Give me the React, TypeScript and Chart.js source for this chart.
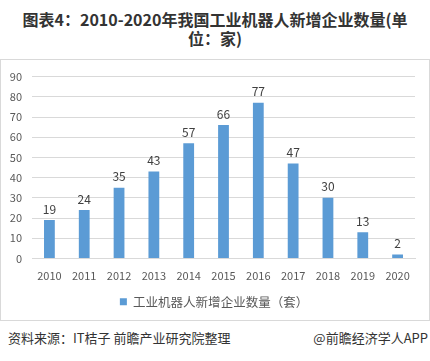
import React, { useEffect, useRef } from "react";
import { Chart, registerables } from "chart.js";

Chart.register(...registerables);

const categories = ["2010", "2011", "2012", "2013", "2014", "2015", "2016", "2017", "2018", "2019", "2020"];
const values = [19, 24, 35, 43, 57, 66, 77, 47, 30, 13, 2];
const seriesName = "工业机器人新增企业数量（套）";
const yMax = 90;
const yStep = 10;

const FONT = "'Noto Sans CJK SC', 'Noto Sans', sans-serif";

const valueLabels = {
  id: "valueLabels",
  afterDatasetsDraw(chart: any) {
    const ctx = chart.ctx;
    const meta = chart.getDatasetMeta(0);
    ctx.save();
    ctx.font = `12px ${FONT}`;
    ctx.fillStyle = "#404040";
    ctx.textAlign = "center";
    ctx.textBaseline = "bottom";
    meta.data.forEach((bar: any, i: number) => {
      ctx.fillText(String(values[i]), bar.x, bar.y - 5);
    });
    ctx.restore();
  },
};

// centre the legend under the whole box rather than under the padded area
const legendShift = {
  id: "legendShift",
  afterLayout(chart: any) {
    if (chart.legend) {
      chart.legend.left += 6;
      chart.legend.right += 6;
    }
  },
};

export default function App() {
  const ref = useRef<HTMLCanvasElement>(null);
  useEffect(() => {
    if (!ref.current) return;
    const chart = new Chart(ref.current, {
      type: "bar",
      data: {
        labels: categories,
        datasets: [
          {
            label: seriesName,
            data: values,
            backgroundColor: "#5B9BD5",
            barPercentage: 0.31,
            categoryPercentage: 1,
          },
        ],
      },
      options: {
        animation: false,
        responsive: false,
        maintainAspectRatio: false,
        layout: { padding: { top: 13, right: 14, bottom: 2, left: 0 } },
        plugins: {
          legend: {
            position: "bottom",
            labels: {
              boxWidth: 7,
              boxHeight: 7,
              padding: 10,
              color: "#595959",
              font: { family: FONT, size: 12.5 },
            },
          },
          tooltip: { enabled: false },
        },
        scales: {
          x: {
            grid: { display: false },
            border: { display: true, color: "#d9d9d9" },
            ticks: { color: "#595959", font: { family: FONT, size: 11 }, padding: 3 },
            afterFit(scale: any) {
              scale.height = 27;
            },
          },
          y: {
            min: 0,
            max: yMax,
            grid: { color: "#d9d9d9", drawTicks: false },
            border: { display: false },
            ticks: {
              stepSize: yStep,
              color: "#595959",
              font: { family: FONT, size: 11 },
              padding: 10,
            },
            afterFit(scale: any) {
              scale.width = 31;
            },
          },
        },
      },
      plugins: [valueLabels, legendShift],
    });
    return () => chart.destroy();
  }, []);

  return (
    <div style={{ position: "absolute", left: 0, top: 0, width: 430, height: 361, background: "#fff", fontFamily: FONT }}>
      <div
        style={{
          position: "absolute",
          top: 10,
          left: 0,
          width: 430,
          textAlign: "center",
          fontSize: 16,
          fontWeight: "bold",
          lineHeight: "19px",
          color: "#333",
        }}
      >
        图表4：2010-2020年我国工业机器人新增企业数量(单
        <br />
        位：家)
      </div>
      <div
        style={{
          position: "absolute",
          top: 59,
          left: 0,
          width: 428,
          height: 260,
          border: "1px solid #d9d9d9",
        }}
      >
        <canvas ref={ref} width={428} height={260} style={{ display: "block" }} />
      </div>
      <div
        style={{
          position: "absolute",
          top: 330,
          left: 8,
          fontSize: 13,
          lineHeight: "16px",
          color: "#333",
        }}
      >
        资料来源：IT桔子 前瞻产业研究院整理
      </div>
      <div
        style={{
          position: "absolute",
          top: 330,
          right: 2,
          fontSize: 13,
          lineHeight: "16px",
          color: "#333",
        }}
      >
        @前瞻经济学人APP
      </div>
    </div>
  );
}
